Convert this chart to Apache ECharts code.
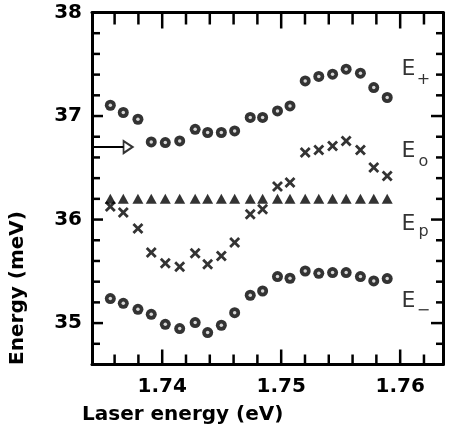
<!DOCTYPE html>
<html>
<head>
<meta charset="utf-8">
<script src="https://cdn.jsdelivr.net/npm/echarts@6/dist/echarts.min.js"></script>
<style>
  html, body { margin: 0; padding: 0; background: #fff; }
  #chart { width: 450px; height: 427px; }
</style>
</head>
<body>
<div id="chart"></div>
<script>
// ---- data ----
const laserEnergy = [1.73564, 1.73673, 1.73796, 1.73908, 1.74026, 1.74147, 1.74277, 1.74382, 1.74497, 1.74609,
                     1.74740, 1.74844, 1.74969, 1.75074, 1.75202, 1.75316, 1.75432, 1.75546, 1.75666, 1.75778, 1.75891];
const ePlus  = [37.104, 37.034, 36.969, 36.750, 36.744, 36.759, 36.872, 36.841, 36.841, 36.856,
                36.986, 36.986, 37.049, 37.098, 37.339, 37.382, 37.404, 37.452, 37.414, 37.275, 37.179];
const eZero  = [36.126, 36.068, 35.913, 35.681, 35.578, 35.544, 35.674, 35.568, 35.648, 35.778,
                36.051, 36.100, 36.319, 36.357, 36.647, 36.672, 36.711, 36.759, 36.672, 36.502, 36.421];
const eP     = [36.20, 36.20, 36.20, 36.20, 36.20, 36.20, 36.20, 36.20, 36.20, 36.20,
                36.20, 36.20, 36.20, 36.20, 36.20, 36.20, 36.20, 36.20, 36.20, 36.20, 36.20];
const eMinus = [35.237, 35.191, 35.133, 35.085, 34.988, 34.947, 35.005, 34.908, 34.979, 35.101,
                35.269, 35.310, 35.449, 35.433, 35.503, 35.481, 35.488, 35.488, 35.449, 35.407, 35.430];
const arrowX = [1.7341, 1.73677];
const arrowHeadX = 1.73713;
const arrowY = 36.70;
const curveLabelX = 1.76011;
const curveLabelY = [37.452, 36.659, 35.954, 35.206];
const subLabelX = 1.76196;
const subLabelY = [37.351, 36.562, 35.886, 35.117];
const subLabelText = ['+', 'o', 'p', '\u2212'];
const xTickLabels = ['1.74', '1.75', '1.76'];
const yTickLabels = ['35', '36', '37', '38'];
const xMinorTicks = [1.736, 1.738, 1.742, 1.744, 1.746, 1.748, 1.752, 1.754, 1.756, 1.758, 1.762];
const xMajorTicks = [1.74, 1.75, 1.76];
const yMinorTicks = [34.8, 35.2, 35.4, 35.6, 35.8, 36.2, 36.4, 36.6, 36.8, 37.2, 37.4, 37.6, 37.8];
const yMajorTicks = [35, 36, 37];
const X_MIN = 1.7341, X_MAX = 1.7636, Y_MIN = 34.6, Y_MAX = 38;

const pairs = (xs, ys) => xs.map((x, i) => [x, ys[i]]);
const FONT = '"DejaVu Sans", sans-serif';

// tick kinds: 0 x-minor, 1 x-major, 2 y-minor, 3 y-major
const tickData = [].concat(
  xMinorTicks.map(v => [v, Y_MIN, 0]),
  xMajorTicks.map(v => [v, Y_MIN, 1]),
  yMinorTicks.map(v => [X_MIN, v, 2]),
  yMajorTicks.map(v => [X_MIN, v, 3])
);
// [near side length, far side length] for each kind
const TICK_LEN = [[10, 12], [15, 16], [8, 7], [11, 12]];

function axisLineStyle() { return { show: true, onZero: false, lineStyle: { color: '#000', width: 3 } }; }

const chart = echarts.init(document.getElementById('chart'));
chart.setOption({
  animation: false,
  backgroundColor: '#fff',
  grid: { left: 92, right: 7, top: 12.5, bottom: 62.5 },
  xAxis: [
    { type: 'value', position: 'bottom', min: X_MIN, max: X_MAX, minInterval: 0.01, maxInterval: 0.01,
      axisLine: axisLineStyle(), axisTick: { show: false }, splitLine: { show: false },
      axisLabel: { show: true, margin: 12, color: '#000', fontFamily: FONT, fontWeight: 'bold', fontSize: 20,
        formatter: v => { const s = v.toFixed(2); return xTickLabels.includes(s) && Math.abs(v - parseFloat(s)) < 1e-6 ? s : ''; } } },
    { type: 'value', position: 'top', min: X_MIN, max: X_MAX,
      axisLine: axisLineStyle(), axisTick: { show: false }, axisLabel: { show: false }, splitLine: { show: false } }
  ],
  yAxis: [
    { type: 'value', position: 'left', min: Y_MIN, max: Y_MAX, minInterval: 1, maxInterval: 1,
      axisLine: axisLineStyle(), axisTick: { show: false }, splitLine: { show: false },
      axisLabel: { show: true, margin: 10, color: '#000', fontFamily: FONT, fontWeight: 'bold', fontSize: 20,
        formatter: v => { const s = String(Math.round(v)); return yTickLabels.includes(s) && Math.abs(v - Math.round(v)) < 1e-6 ? s : ''; } } },
    { type: 'value', position: 'right', min: Y_MIN, max: Y_MAX,
      axisLine: axisLineStyle(), axisTick: { show: false }, axisLabel: { show: false }, splitLine: { show: false } }
  ],
  graphic: [
    { type: 'text', x: 82, y: 415, style: { text: 'Laser energy (eV)', font: 'bold 20px ' + FONT, fill: '#000', align: 'left', verticalAlign: 'middle' } },
    { type: 'text', x: 17.5, y: 288, rotation: Math.PI / 2, style: { text: 'Energy (meV)', font: 'bold 20px ' + FONT, fill: '#000', align: 'center', verticalAlign: 'middle' } }
  ],
  series: [
    { type: 'custom', coordinateSystem: 'cartesian2d', xAxisIndex: 0, yAxisIndex: 0, silent: true, clip: false, z: 6,
      data: tickData, encode: { x: 0, y: 1 },
      renderItem: (params, api) => {
        const kind = api.value(2);
        const len = TICK_LEN[kind];
        const style = { stroke: '#000', lineWidth: 2.5 };
        if (kind < 2) {
          const b = api.coord([api.value(0), Y_MIN]);
          const t = api.coord([api.value(0), Y_MAX]);
          return { type: 'group', children: [
            { type: 'line', shape: { x1: b[0], y1: b[1], x2: b[0], y2: b[1] - len[0] }, style },
            { type: 'line', shape: { x1: t[0], y1: t[1], x2: t[0], y2: t[1] + len[1] }, style }
          ] };
        }
        const l = api.coord([X_MIN, api.value(1)]);
        const r = api.coord([X_MAX, api.value(1)]);
        return { type: 'group', children: [
          { type: 'line', shape: { x1: l[0], y1: l[1], x2: l[0] + len[0], y2: l[1] }, style },
          { type: 'line', shape: { x1: r[0], y1: r[1], x2: r[0] - len[1], y2: r[1] }, style }
        ] };
      }
    },
    { type: 'line', data: pairs(arrowX, [arrowY, arrowY]), symbol: 'none', lineStyle: { color: '#000', width: 2 }, z: 3 },
    { type: 'scatter', data: [[arrowHeadX, arrowY]], symbol: 'triangle', symbolRotate: -90, symbolSize: [12, 9],
      itemStyle: { color: '#fff', borderColor: '#000', borderWidth: 2 }, z: 4 },
    { name: 'E+', type: 'scatter', data: pairs(laserEnergy, ePlus), symbol: 'circle', symbolSize: 11, itemStyle: { color: '#000' }, z: 3 },
    { type: 'scatter', data: pairs(laserEnergy, ePlus), symbol: 'circle', symbolSize: 3.5, itemStyle: { color: '#fff' }, z: 4 },
    { name: 'E-', type: 'scatter', data: pairs(laserEnergy, eMinus), symbol: 'circle', symbolSize: 11, itemStyle: { color: '#000' }, z: 3 },
    { type: 'scatter', data: pairs(laserEnergy, eMinus), symbol: 'circle', symbolSize: 3.5, itemStyle: { color: '#fff' }, z: 4 },
    { name: 'E0', type: 'scatter', data: pairs(laserEnergy, eZero),
      symbol: 'path://M0,1.8 L1.8,0 L5,3.2 L8.2,0 L10,1.8 L6.8,5 L10,8.2 L8.2,10 L5,6.8 L1.8,10 L0,8.2 L3.2,5 Z',
      symbolSize: 11, itemStyle: { color: '#000' }, z: 3 },
    { name: 'Ep', type: 'scatter', data: pairs(laserEnergy, eP), symbol: 'triangle', symbolSize: [11, 10], itemStyle: { color: '#000' }, z: 3 },
    { type: 'scatter', symbolSize: 0, silent: true, z: 5,
      data: curveLabelY.map(y => [curveLabelX, y]),
      label: { show: true, position: 'right', distance: 0, formatter: 'E', color: '#000', fontFamily: FONT, fontSize: 22 } },
    { type: 'scatter', symbolSize: 0, silent: true, z: 5,
      data: subLabelY.map((y, i) => ({ value: [subLabelX, y], name: subLabelText[i] })),
      label: { show: true, position: 'inside', formatter: p => p.name, color: '#000', fontFamily: FONT, fontSize: 16 } }
  ]
});
</script>
</body>
</html>
